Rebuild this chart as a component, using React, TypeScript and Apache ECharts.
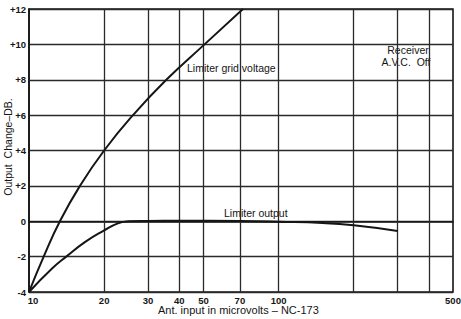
import React, { useEffect, useRef } from 'react';
import * as echarts from 'echarts';

// Ticks on the logarithmic x axis (microvolts)
const xTicks = [10, 20, 30, 40, 50, 70, 100, 200, 300, 400, 500];
const xTickLabels = ['10', '20', '30', '40', '50', '70', '100', '', '', '', '500'];

// Limiter grid voltage curve
const gridX = [10, 11.45, 13.3, 16.0, 20, 26.1, 35.5, 50.5, 72];
const gridY = [-4, -2, 0, 2, 4, 6, 8, 10, 12];

// Limiter output curve
const outX = [10, 12.4, 14.1, 16.8, 20, 22.7, 25, 30, 40, 70, 100, 150, 200, 300];
const outY = [-4, -2.66, -2, -1.17, -0.52, -0.12, 0, 0.02, 0.03, 0.01, -0.03, -0.1, -0.23, -0.55];

const FONT = '"Liberation Sans", Arial, sans-serif';
const INK = '#151515';

export default function App() {
  const ref = useRef<HTMLDivElement>(null);
  useEffect(() => {
    const chart = echarts.init(ref.current!, null, { renderer: 'svg' });
    chart.setOption({
      animation: false,
      backgroundColor: '#ffffff',
      grid: {
        left: 29,
        right: 8,
        top: 9,
        bottom: 27,
        show: true,
        borderColor: INK,
        borderWidth: 1.6,
        backgroundColor: 'transparent',
      },
      xAxis: {
        type: 'log',
        logBase: 10,
        min: 10,
        max: 500,
        axisLine: { show: true, lineStyle: { color: INK, width: 1.6 } },
        axisTick: { show: false },
        axisLabel: { show: false },
        splitLine: { show: false },
        minorSplitLine: { show: false },
      },
      yAxis: {
        type: 'value',
        min: -4,
        max: 12,
        interval: 2,
        axisLine: { show: true, lineStyle: { color: INK, width: 1.6 } },
        axisTick: { show: false },
        axisLabel: {
          margin: 3,
          color: INK,
          fontFamily: FONT,
          fontSize: 9.5,
          fontWeight: 'bold',
          formatter: (v: number) => (v > 0 ? '+' + v : String(v)),
        },
        splitLine: { show: true, lineStyle: { color: '#2a2a2a', width: 1.3 } },
      },
      series: [
        {
          name: 'Limiter grid voltage',
          type: 'line',
          data: gridX.map((x, i) => [x, gridY[i]]),
          smooth: 0.5,
          showSymbol: false,
          symbol: 'none',
          lineStyle: { color: INK, width: 2 },
          markLine: {
            silent: true,
            symbol: 'none',
            label: { show: false },
            lineStyle: { color: '#2a2a2a', width: 1.3, type: 'solid' },
            data: xTicks.slice(1, -1).map((v) => ({ xAxis: v })),
          },
          z: 5,
        },
        {
          name: 'Limiter output',
          type: 'line',
          data: outX.map((x, i) => [x, outY[i]]),
          smooth: 0.5,
          showSymbol: false,
          symbol: 'none',
          lineStyle: { color: INK, width: 2 },
          z: 5,
        },
      ],
    });

    const bottomY = chart.convertToPixel({ yAxisIndex: 0 }, -4) as number;
    const tickTexts = xTicks.map((v, i) => ({
      type: 'text',
      x: (chart.convertToPixel({ xAxisIndex: 0 }, v) as number) + (i === 0 ? 4 : 0),
      y: bottomY + 3,
      style: {
        text: xTickLabels[i],
        align: 'center',
        verticalAlign: 'top',
        fontFamily: FONT,
        fontSize: 9.5,
        fontWeight: 'bold',
        fill: INK,
      },
    }));
    const txt = (text: string, x: number, y: number, align = 'left', size = 10.5) => ({
      type: 'text',
      x,
      y,
      style: {
        text,
        align,
        verticalAlign: 'middle',
        fontFamily: FONT,
        fontSize: size,
        fill: INK,
      },
    });
    chart.setOption({
      graphic: [
        ...tickTexts,
        txt('Limiter grid voltage', 187, 68),
        txt('Receiver', 408, 50, 'center'),
        txt('A.V.C.  Off', 406, 62, 'center'),
        txt('Limiter output', 224, 213),
        txt('Ant. input in microvolts – NC-173', 158, 310, 'left', 11),
        {
          type: 'text',
          x: 8,
          y: 147,
          rotation: Math.PI / 2,
          style: {
            text: 'Output  Change–DB.',
            align: 'center',
            verticalAlign: 'middle',
            fontFamily: FONT,
            fontSize: 10.5,
            fill: INK,
          },
        },
      ],
    });
    return () => chart.dispose();
  }, []);
  return (
    <div
      ref={ref}
      style={{ position: 'fixed', left: 0, top: 0, width: 461, height: 319, background: '#fff' }}
    />
  );
}
